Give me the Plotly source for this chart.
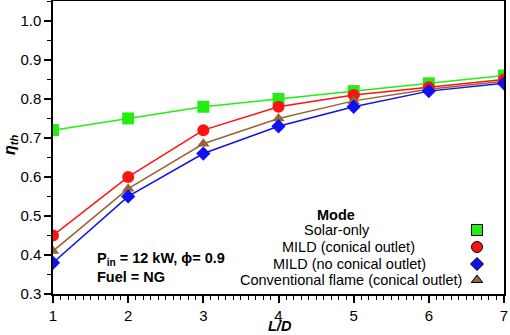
import plotly.graph_objects as go

ld = [1, 2, 3, 4, 5, 6, 7]
solar_only = [0.72, 0.75, 0.78, 0.80, 0.82, 0.84, 0.86]
mild_conical = [0.45, 0.60, 0.72, 0.78, 0.81, 0.83, 0.85]
mild_no_conical = [0.38, 0.55, 0.66, 0.73, 0.78, 0.82, 0.84]
conventional = [0.41, 0.57, 0.685, 0.75, 0.795, 0.825, 0.845]

names = ["Solar-only", "MILD (conical outlet)", "MILD (no conical outlet)",
         "Conventional flame (conical outlet)"]
series = [solar_only, mild_conical, mild_no_conical, conventional]
colors = ["#22ee11", "#ff1111", "#1111ee", "#9b6333"]
symbols = ["square", "circle", "diamond", "triangle-up"]
sizes = [12, 12, 11, 11]

FONT = "Liberation Sans, Arial, Helvetica, sans-serif"
W, H = 510, 335
L, R, T, B = 53, 6, 1, 41


def px(x):  # pixel -> paper x
    return (x - L) / (W - L - R)


def py(y):  # pixel -> paper y
    return (H - B - y) / (H - T - B)


fig = go.Figure()
order = [0, 1, 3, 2]
for i in order:
    fig.add_trace(go.Scatter(
        x=ld, y=series[i], mode="lines+markers", name=names[i],
        line=dict(color=colors[i], width=1.5),
        marker=dict(symbol=symbols[i], size=sizes[i], color=colors[i],
                    line=dict(width=0)),
        showlegend=False))

# custom legend (markers to the right of the text), on hidden pixel-scaled axes
leg_y = [230, 247, 264, 280]
leg_text_x = [337, 348, 349, 351]
for i in range(4):
    fig.add_trace(go.Scatter(
        x=[477], y=[leg_y[i]], xaxis="x2", yaxis="y2", mode="markers",
        marker=dict(symbol=symbols[i], size=sizes[i] - 1, color=colors[i],
                    line=dict(width=1, color="black")),
        showlegend=False, hoverinfo="skip"))

annotations = [dict(x=px(336), y=py(215), text="<b>Mode</b>")]
for i in range(4):
    annotations.append(dict(x=px(leg_text_x[i]), y=py(leg_y[i]), text=names[i]))
annotations += [
    dict(x=px(95), y=py(259), xanchor="left", text="<b>P<sub>in</sub> = 12 kW, ϕ= 0.9</b>"),
    dict(x=px(95), y=py(277), xanchor="left", text="<b>Fuel = NG</b>"),
]
for a in annotations:
    a.setdefault("xanchor", "center")
    a.update(xref="paper", yref="paper", yanchor="middle", showarrow=False,
             font=dict(family=FONT, size=14.5, color="black"))
annotations.append(dict(x=px(280), y=py(335), xref="paper", yref="paper",
                        xanchor="center", yanchor="bottom", showarrow=False,
                        borderpad=0, text="<b><i>L/D</i></b>",
                        font=dict(family=FONT, size=14.5, color="black")))
annotations.append(dict(x=px(10), y=py(145), xref="paper", yref="paper",
                        xanchor="center", yanchor="middle", showarrow=False,
                        textangle=-90, text="<b><i>η<sub>th</sub></i></b>",
                        font=dict(family=FONT, size=16, color="black")))

fig.update_layout(
    width=W, height=H,
    margin=dict(l=L, r=R, t=T, b=B),
    paper_bgcolor="white", plot_bgcolor="white",
    font=dict(family=FONT, size=15, color="black"),
    annotations=annotations,
    xaxis=dict(range=[1, 7], tick0=1, dtick=1, ticks="outside", ticklen=7,
               tickwidth=1.5, tickcolor="black", showline=True,
               linecolor="black", linewidth=1.5, mirror=True,
               showgrid=False, zeroline=False, automargin=False,
               minor=dict(dtick=0.1, ticks="outside", ticklen=4,
                          tickcolor="black", tickwidth=1),
               tickfont=dict(size=15)),
    yaxis=dict(range=[0.3, 1.051], tick0=0.3, dtick=0.1, tickformat=".1f",
               ticks="outside", ticklen=7, tickwidth=1.5, tickcolor="black",
               showline=True, linecolor="black", linewidth=1.5, mirror=True,
               showgrid=False, zeroline=False, automargin=False,
               minor=dict(dtick=0.05, ticks="outside", ticklen=4,
                          tickcolor="black", tickwidth=1),
               tickfont=dict(size=15)),
    xaxis2=dict(overlaying="x", range=[L, W - R], visible=False,
                anchor="y2", fixedrange=True),
    yaxis2=dict(overlaying="y", range=[H - B, T], visible=False,
                anchor="x2", fixedrange=True),
)

fig.write_html("out.html", config={"displayModeBar": False},
               post_script="document.body.style.margin='0';")
